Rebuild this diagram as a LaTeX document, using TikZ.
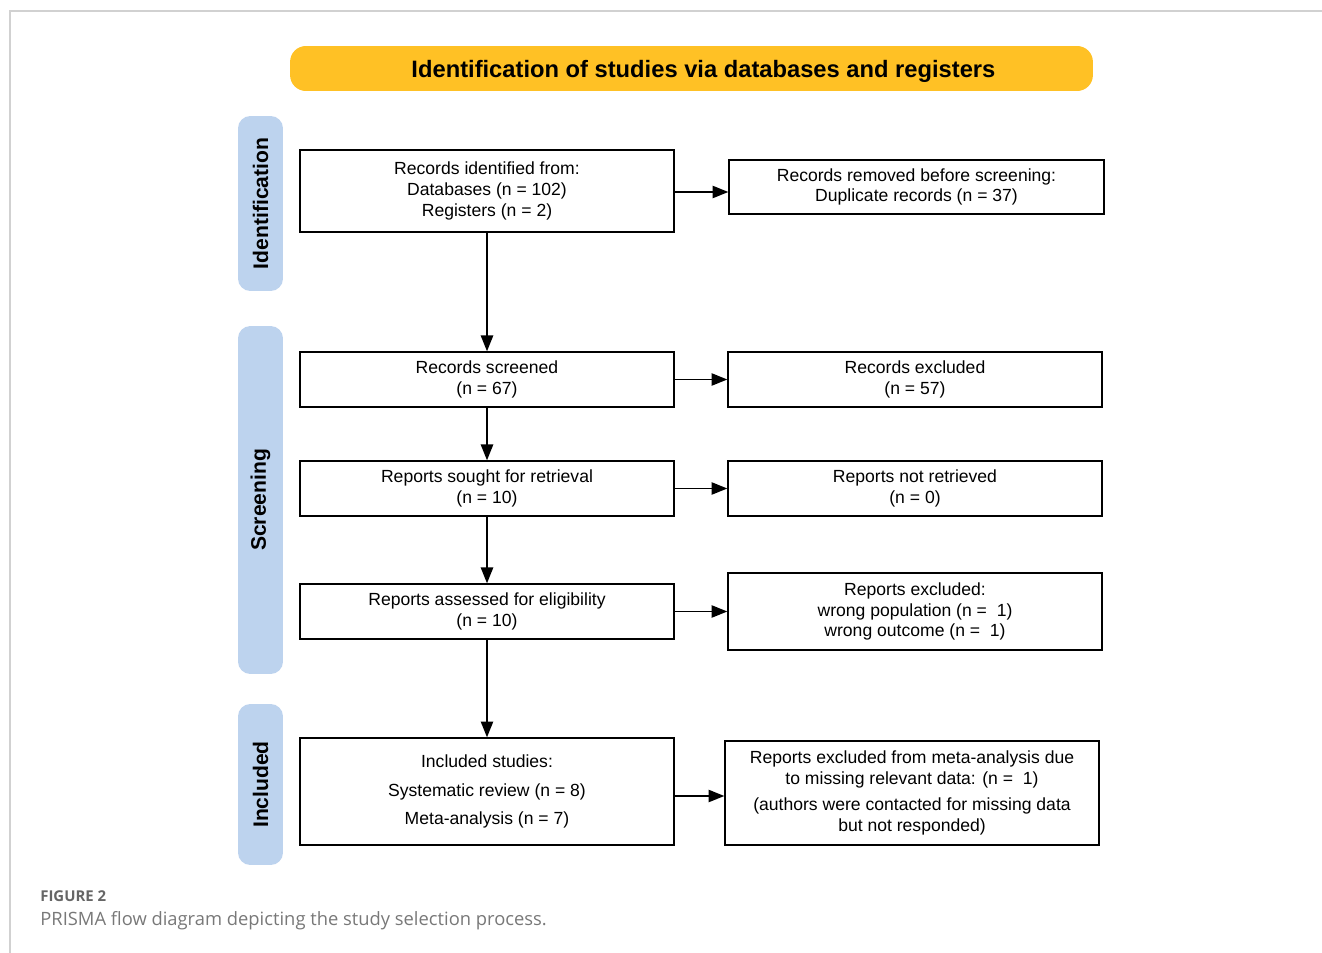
\documentclass[tikz,border=0pt]{standalone}
\usepackage{fontspec}
\setmainfont{Liberation Sans}
\newfontfamily\capfont{Open Sans}
\usepackage{tikz}
\usetikzlibrary{arrows.meta}
\definecolor{headyellow}{RGB}{255,193,37}
\definecolor{phaseblue}{RGB}{189,211,238}
\definecolor{capgray}{RGB}{120,120,120}

\begin{document}
\begin{tikzpicture}[x=0.02cm, y=-0.02cm,
  box/.style={draw, line width=0.8pt, minimum width=7.48cm, inner sep=2pt, align=center, font=\fontsize{10}{11.9}\selectfont},
  phase/.style={fill=phaseblue, rounded corners=7pt, rotate=90, minimum height=0.9cm, font=\fontsize{12}{14}\selectfont\bfseries},
  arr/.style={-{Triangle[length=9pt,width=7pt]}, line width=0.9pt}]
\useasboundingbox (0,0) rectangle (1322,953);
\draw[black!18, line width=0.6pt] (10,953) -- (10,11) -- (1322,11);
\node[fill=headyellow, rounded corners=9pt, minimum width=16.06cm, minimum height=0.9cm, text depth=0pt, font=\fontsize{13.5}{16}\selectfont\bfseries] (head) at (691.5,68.5) {\hspace*{13.6pt}Identification of studies via databases and registers};
\node[phase, minimum width=3.5cm] (pid) at (260.5,203.5) {Identification};
\node[phase, minimum width=6.96cm] (pscr) at (260.5,500) {Screening};
\node[phase, minimum width=3.22cm] (pinc) at (260.5,784.5) {Included};
% left column
\node[box, minimum height=1.64cm] (ident) at (487,191) {Records identified from:\\Databases (n = 102)\\Registers (n = 2)};
\node[box, minimum height=1.1cm] (screen) at (487,379.5) {Records screened\\(n = 67)};
\node[box, minimum height=1.1cm] (sought) at (487,488.5) {Reports sought for retrieval\\(n = 10)};
\node[box, minimum height=1.1cm] (elig) at (487,611.5) {Reports assessed for eligibility\\(n = 10)};
\node[box, minimum height=2.14cm] (incl) at (487,791.5) {Included studies:\\[4.5pt]Systematic review (n = 8)\\[4.5pt]Meta-analysis (n = 7)};
% right column
\node[box, minimum width=7.5cm, minimum height=1.08cm] (dupl) at (916.5,187) {Records removed before screening:\\Duplicate records (n = 37)};
\node[box, minimum height=1.1cm] (excl) at (915,379.5) {Records excluded\\(n = 57)};
\node[box, minimum height=1.1cm] (notret) at (915,488.5) {Reports not retrieved\\(n = 0)};
\node[box, minimum height=1.54cm] (rexcl) at (915,611.5) {Reports excluded:\\wrong population (n = \ 1)\\wrong outcome (n = \ 1)};
\node[box, minimum height=2.08cm] (metaex) at (912,793) {Reports excluded from meta-analysis due\\to missing relevant data: (n = \ 1)\\[2.8pt](authors were contacted for missing data\\but not responded)};
% arrows
\draw[arr] (ident) -- (screen);
\draw[arr] (screen) -- (sought);
\draw[arr] (sought) -- (elig);
\draw[arr] (elig) -- (incl);
\draw[arr] ([yshift=-0.02cm]ident.east) -- ([yshift=-0.02cm]ident.east -| dupl.west);
\draw[arr] (screen) -- (excl);
\draw[arr] (sought) -- (notret);
\draw[arr] (elig) -- (rexcl);
\draw[arr] ([yshift=-0.09cm]incl.east) -- ([yshift=-0.09cm]incl.east -| metaex.west);
% caption
\node[anchor=base west, inner sep=0, text=capgray!85!black, font=\capfont\fontsize{8.5}{10}\selectfont\bfseries] (fig) at (40,901) {FIGURE 2};
\node[anchor=base west, inner sep=0, text=capgray, font=\capfont\fontsize{10.45}{13}\selectfont] (cap) at (40,925) {PRISMA flow diagram depicting the study selection process.};
\end{tikzpicture}
\end{document}
